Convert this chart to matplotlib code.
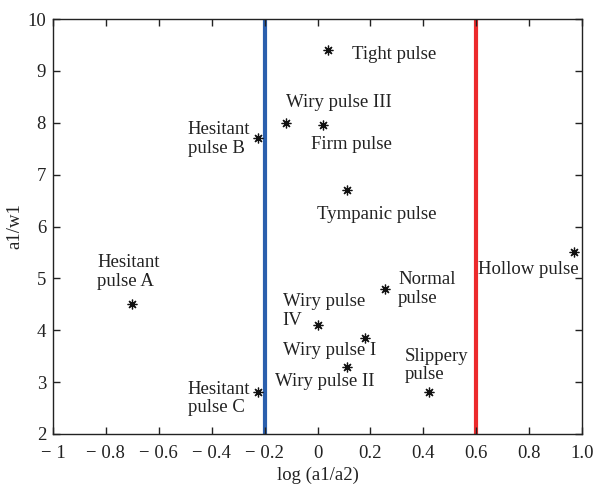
import matplotlib
matplotlib.use("Agg")
import matplotlib.pyplot as plt

plt.rcParams['font.family'] = ['Liberation Serif', 'DejaVu Serif']

# Data
labels = ["Tight pulse", "Wiry pulse III", "Firm pulse", "Hesitant\npulse B",
          "Tympanic pulse", "Hollow pulse", "Hesitant\npulse A", "Normal\npulse",
          "Wiry pulse\nIV", "Wiry pulse I", "Wiry pulse II", "Slippery\npulse",
          "Hesitant\npulse C"]
x_vals = [0.04, -0.12, 0.02, -0.225, 0.11, 0.97, -0.70, 0.255, 0.0, 0.18, 0.11, 0.42, -0.225]
y_vals = [9.4, 8.0, 7.95, 7.7, 6.7, 5.5, 4.5, 4.8, 4.1, 3.85, 3.3, 2.8, 2.8]
blue_x = -0.2
red_x = 0.6
x_ticks = [-1, -0.8, -0.6, -0.4, -0.2, 0, 0.2, 0.4, 0.6, 0.8, 1.0]
x_tick_labels = ["\u2212 1", "\u2212 0.8", "\u2212 0.6", "\u2212 0.4", "\u2212 0.2",
                 "0", "0.2", "0.4", "0.6", "0.8", "1.0"]
y_ticks = [2, 3, 4, 5, 6, 7, 8, 9, 10]

# Label placement (pixel offsets from marker, horizontal alignment)
offsets = [(24, -4), (0, 20), (-12, -19), (-8, -1), (-30, -24), (-96, -17),
           (-35, 32), (13, 0), (-35, 14), (-82, -12), (-72, -15), (-24, 27), (-8, -6)]
has = ['left', 'left', 'left', 'right', 'left', 'left', 'left', 'left', 'left',
       'left', 'left', 'left', 'right']

fig = plt.figure(figsize=(5.93, 4.88), dpi=100)
ax = fig.add_axes([0.0894, 0.1107, 0.8921, 0.8503])

ax.axvline(blue_x, color='#2b5fad', lw=3.0, zorder=1)
ax.axvline(red_x, color='#ec2a2c', lw=3.0, zorder=1)

ax.plot(x_vals, y_vals, linestyle='none', marker=(8, 2, 0), markersize=7,
        color='#111111', mew=0.9, zorder=3)

for lab, x, y, off, ha in zip(labels, x_vals, y_vals, offsets, has):
    ax.annotate(lab, (x, y), xytext=off, textcoords='offset pixels',
                ha=ha, va='center', multialignment='left', fontsize=13.5,
                linespacing=1.15, color='#222222')

ax.set_xlim(-1, 1.0)
ax.set_ylim(2, 10)
ax.set_xticks(x_ticks)
ax.set_xticklabels(x_tick_labels)
ax.set_yticks(y_ticks)
ax.tick_params(direction='in', top=True, right=True, labelsize=13.5, length=5,
               width=1.0, colors='#222222')
ax.tick_params(axis='x', pad=8)
ax.tick_params(axis='y', pad=5)
for s in ax.spines.values():
    s.set_linewidth(1.0)
    s.set_color('#222222')

ax.set_xlabel("log (a1/a2)", fontsize=13.5, color='#222222', labelpad=3)
ax.set_ylabel("a1/w1", fontsize=13.5, color='#222222', labelpad=3)

fig.savefig("out.png", dpi=100)
